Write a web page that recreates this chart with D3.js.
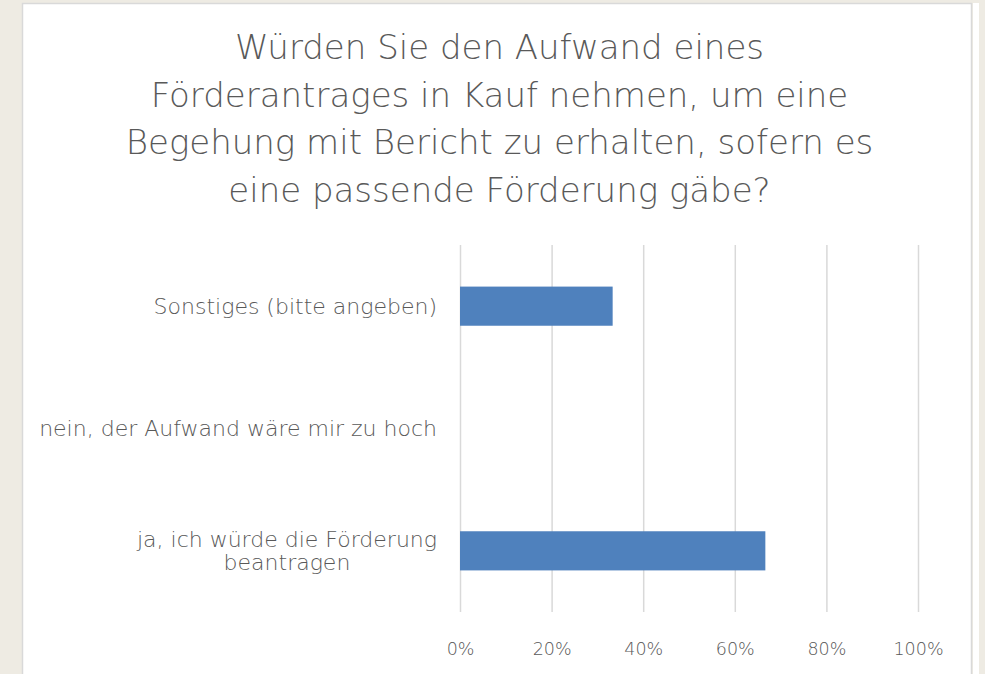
<!DOCTYPE html>
<html>
<head>
<meta charset="utf-8">
<script src="https://cdn.jsdelivr.net/npm/d3@7"></script>
<style>
  html, body { margin: 0; padding: 0; background: #eeebe3; }
  svg { display: block; }
  text { font-family: "DejaVu Sans", sans-serif; fill: #595959; }
</style>
</head>
<body>
<svg id="chart" width="985" height="674"></svg>
<script>
const titleLines = [
  "Würden Sie den Aufwand eines",
  "Förderantrages in Kauf nehmen, um eine",
  "Begehung mit Bericht zu erhalten, sofern es",
  "eine passende Förderung gäbe?"
];
const categories = [
  ["Sonstiges (bitte angeben)"],
  ["nein, der Aufwand wäre mir zu hoch"],
  ["ja, ich würde die Förderung", "beantragen"]
];
const values = [0.3333, 0, 0.6667];
const tickValues = [0, 0.2, 0.4, 0.6, 0.8, 1.0];

const svg = d3.select("#chart");

// panel
svg.append("rect").attr("x", 973).attr("y", 3).attr("width", 6).attr("height", 680).attr("fill", "#ffffff");
svg.append("rect").attr("x", 22.5).attr("y", 3.5).attr("width", 949).attr("height", 680)
  .attr("fill", "#ffffff").attr("stroke", "#d9d9d9").attr("stroke-width", 1.5);

// title
svg.append("g").selectAll("text").data(titleLines).join("text")
  .attr("x", 499.5)
  .attr("y", (d, i) => 59 + i * 47.6)
  .attr("text-anchor", "middle")
  .style("font-size", "34px")
  .style("font-weight", 300)
  .text(d => d);

const x = d3.scaleLinear().domain([0, 1]).range([460, 918]);
const y = d3.scaleBand().domain(categories.map(c => c.join(" "))).range([245, 612])
  .paddingInner(0.68).paddingOuter(0.34);

// gridlines + tick labels via axis
const xAxis = d3.axisBottom(x).tickValues(tickValues).tickFormat(d3.format(".0%"))
  .tickSize(-(612 - 245)).tickPadding(0);
const gx = svg.append("g").attr("transform", "translate(0,612)").call(xAxis);
gx.select(".domain").remove();
gx.selectAll(".tick line").attr("stroke", "#d9d9d9").attr("stroke-width", 1.5);
gx.selectAll(".tick text").attr("y", 43).attr("dy", 0)
  .style("font-size", "17.5px").style("font-weight", 300).attr("fill", "#595959");

// bars
svg.append("g").selectAll("rect").data(values).join("rect")
  .attr("x", x(0))
  .attr("y", (d, i) => y(categories[i].join(" ")))
  .attr("width", d => x(d) - x(0))
  .attr("height", y.bandwidth())
  .attr("fill", "#4f81bd");

// category labels
const labelRight = 437;
const lh = 23.5;
categories.forEach((lines, i) => {
  const cy = y(lines.join(" ")) + y.bandwidth() / 2;
  const g = svg.append("g");
  const ts = lines.map((l, j) => g.append("text")
    .attr("y", cy + (j - (lines.length - 1) / 2) * lh)
    .attr("dy", "0.35em")
    .style("font-size", "22px")
    .style("font-weight", 300)
    .text(l));
  if (lines.length === 1) {
    ts[0].attr("x", labelRight).attr("text-anchor", "end");
  } else {
    const w = d3.max(ts, t => t.node().getComputedTextLength());
    ts.forEach(t => t.attr("x", labelRight - w / 2).attr("text-anchor", "middle"));
  }
});
</script>
</body>
</html>
